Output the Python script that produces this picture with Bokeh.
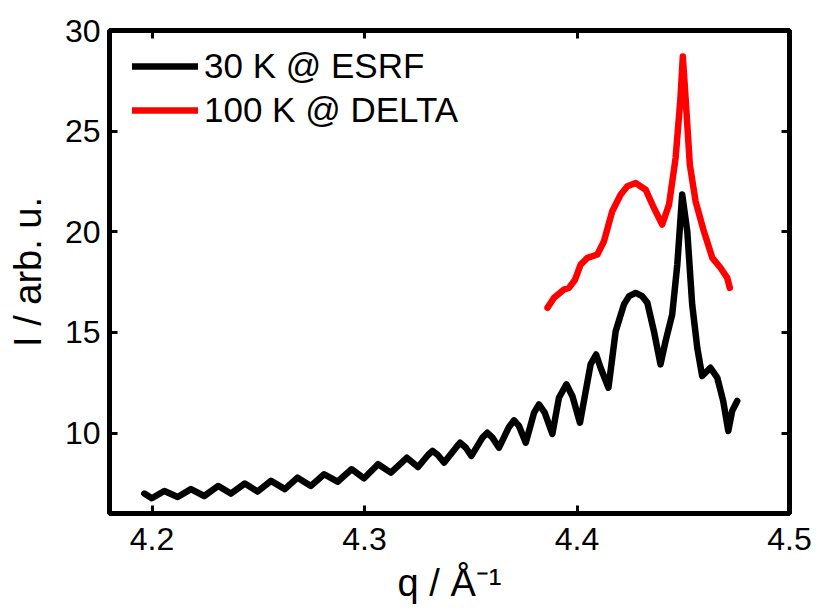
from bokeh.plotting import figure
from bokeh.models import (LinearAxis, Range1d, Legend, LegendItem,
                          FixedTicker, CustomJSTickFormatter)
from bokeh.embed import file_html
from bokeh.resources import INLINE

FONT = "Liberation Sans"

# ---- data ----
q_esrf = [4.1964, 4.1999, 4.2058, 4.2121, 4.2183, 4.2246, 4.2312, 4.2371, 4.2437, 4.2497,
          4.2560, 4.2625, 4.2685, 4.2748, 4.2810, 4.2873, 4.2939, 4.2998, 4.3064, 4.3124,
          4.3199, 4.3252, 4.3300, 4.3320, 4.3344, 4.3375, 4.3430, 4.3450, 4.3477, 4.3503,
          4.3555, 4.3578, 4.3602, 4.3633, 4.3680, 4.3704, 4.3727, 4.3759, 4.3798, 4.3821,
          4.3848, 4.3884, 4.3915, 4.3950, 4.3978, 4.4014, 4.4064, 4.4090, 4.4111, 4.4148,
          4.4182, 4.4221, 4.4245, 4.4276, 4.4307, 4.4331, 4.4362, 4.4393, 4.4417, 4.4448,
          4.4472, 4.4495, 4.4519, 4.4542, 4.4566, 4.4589, 4.4628, 4.4660, 4.4688, 4.4712,
          4.4730, 4.4754]
i_esrf = [6.99, 6.76, 7.12, 6.82, 7.21, 6.87, 7.37, 6.99, 7.49, 7.09,
          7.62, 7.21, 7.78, 7.37, 7.95, 7.58, 8.20, 7.75, 8.45, 8.03,
          8.77, 8.31, 8.92, 9.11, 8.92, 8.53, 9.27, 9.52, 9.27, 8.86,
          9.77, 10.01, 9.77, 9.27, 10.30, 10.63, 10.35, 9.52, 11.01, 11.42,
          11.01, 9.95, 11.75, 12.42, 11.84, 10.51, 13.41, 13.90, 13.24, 12.25,
          15.06, 16.39, 16.80, 16.96, 16.80, 16.47, 15.06, 13.41, 14.57, 15.89,
          18.37, 21.85, 20.02, 16.39, 14.23, 12.83, 13.24, 12.75, 11.59, 10.10,
          11.09, 11.59]

q_delta = [4.3861, 4.3892, 4.3939, 4.3962, 4.3990, 4.4017, 4.4049, 4.4096, 4.4127, 4.4166,
           4.4205, 4.4237, 4.4276, 4.4323, 4.4362, 4.4401, 4.4433, 4.4464, 4.4487, 4.4498,
           4.4511, 4.4531, 4.4558, 4.4597, 4.4637, 4.4676, 4.4707, 4.4719]
i_delta = [16.22, 16.72, 17.13, 17.21, 17.60, 18.37, 18.70, 18.87, 19.53, 21.02,
           21.84, 22.26, 22.42, 22.09, 21.18, 20.36, 21.35, 23.66, 26.64, 28.71,
           26.64, 23.33, 21.51, 20.02, 18.70, 18.20, 17.71, 17.21]

series_labels = ["30 K @ ESRF", "100 K @ DELTA"]
series_colors = ["#000000", "#ff0000"]

x_ticks = [4.2, 4.3, 4.4, 4.5]
x_tick_labels = ["4.2", "4.3", "4.4", "4.5"]
y_ticks = [10, 15, 20, 25, 30]
y_tick_labels = ["10", "15", "20", "25", "30"]

x_title = "q / \u00c5\u207b\u00b9"
y_title = "I / arb. u."

# ---- figure ----
p = figure(width=817, height=616, output_backend="svg", toolbar_location=None,
           x_range=Range1d(4.18, 4.5), y_range=Range1d(6, 30),
           min_border_left=109, min_border_right=28, min_border_top=30,
           min_border_bottom=103, x_axis_location=None, y_axis_location=None)
p.xgrid.visible = False
p.ygrid.visible = False
p.outline_line_color = "black"
p.outline_line_width = 5
p.background_fill_color = "white"
p.border_fill_color = "white"

blank = CustomJSTickFormatter(code="return ''")

def style_axis(ax, ticks, labels=None):
    ax.ticker = FixedTicker(ticks=ticks)
    ax.axis_line_color = "black"
    ax.axis_line_width = 5
    ax.major_tick_in = 8
    ax.major_tick_out = 0
    ax.major_tick_line_width = 3
    ax.major_tick_line_color = "black"
    ax.minor_tick_line_color = None
    ax.major_label_text_font = FONT
    ax.major_label_text_font_size = "32px"
    ax.major_label_text_color = "black"
    ax.axis_label_text_font = FONT
    ax.axis_label_text_font_style = "normal"
    ax.axis_label_text_color = "black"
    if labels is None:
        ax.formatter = blank
    else:
        ax.major_label_overrides = {t: l for t, l in zip(ticks, labels)}

xb = LinearAxis(axis_label=x_title)
style_axis(xb, x_ticks, x_tick_labels)
xb.major_label_standoff = 14
xb.axis_label_standoff = 9
xb.axis_label_text_font_size = "38px"
p.add_layout(xb, "below")

yl = LinearAxis(axis_label=y_title)
style_axis(yl, y_ticks, y_tick_labels)
yl.major_label_standoff = 9
yl.axis_label_standoff = 13
yl.axis_label_text_font_size = "38px"
p.add_layout(yl, "left")

xt = LinearAxis()
style_axis(xt, x_ticks)
p.add_layout(xt, "above")

yr = LinearAxis()
style_axis(yr, y_ticks)
p.add_layout(yr, "right")

r1 = p.line(q_esrf, i_esrf, line_color=series_colors[0], line_width=6.5,
            line_join="round", line_cap="round")
r2 = p.line(q_delta, i_delta, line_color=series_colors[1], line_width=6.5,
            line_join="round", line_cap="round")

legend = Legend(items=[LegendItem(label=series_labels[0], renderers=[r1]),
                       LegendItem(label=series_labels[1], renderers=[r2])],
                location=(23, 383), glyph_width=66, glyph_height=40, label_height=40,
                spacing=4, padding=0, margin=0, label_standoff=6,
                border_line_color=None, background_fill_alpha=0,
                label_text_font=FONT, label_text_font_size="35px",
                label_text_color="black")
p.add_layout(legend)

open("out.html", "w").write(file_html(p, INLINE))
